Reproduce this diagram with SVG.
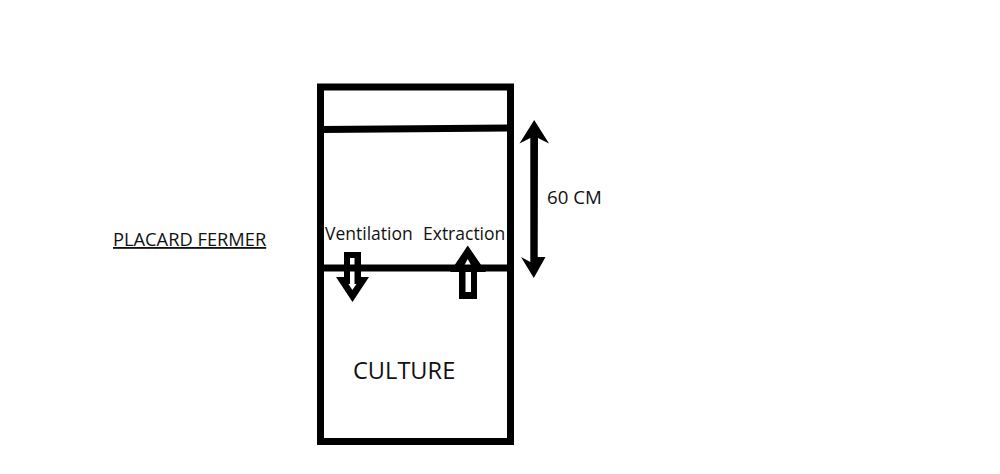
<svg xmlns="http://www.w3.org/2000/svg" width="1000" height="474" viewBox="0 0 1000 474">
<style>
.t{font-family:"Open Sans","Noto Sans","Liberation Sans",sans-serif;fill:#111}
.l{fill:none;stroke:#000;stroke-width:7}
.a{fill:#000}
.w{fill:#fff}
</style>
<rect width="1000" height="474" fill="#fff"/>
<g id="chamber"><rect class="l" x="320.500" y="87" width="190" height="354.500"/></g>
<g id="connectors">
<line class="l" x1="322" y1="129.500" x2="509" y2="128"/>
<g id="dimension">
<polygon class="a" points="534.200,120 549,143.500 538,138 537.700,257 545.500,257 533.800,278 521,257 530.300,262 530.300,138 519.500,143.500"/>
</g>
</g>
<g id="ventilation-arrow">
<polygon class="a" points="344,252 361,252 361,277 369,277 352.500,302 336,277 344,277"/>
<polygon class="w" points="350,258 354.500,258 354.500,284 356.500,284 352.300,290 348.500,284 350,284"/>
</g>
<g id="extraction-arrow">
<polygon class="a" points="467.700,245.500 486,272 477,272 477,299 459,299 459,272 450,272"/>
<polygon class="w" points="467.700,259 471,265 464.500,265"/>
<rect class="w" x="465.500" y="272" width="5.500" height="20"/>
</g>
<g id="divider"><line class="l" x1="322" y1="268" x2="509" y2="268"/></g>
<g id="labels">
<text class="t" x="113" y="246" font-size="18.300" text-decoration="underline">PLACARD FERMER</text>
<text class="t" x="325" y="240" font-size="17.500">Ventilation</text>
<text class="t" x="423" y="240" font-size="17.500">Extraction</text>
<text class="t" x="547" y="204" font-size="18.700">60 CM</text>
<text class="t" x="353" y="379" font-size="23.600">CULTURE</text>
</g>
</svg>
